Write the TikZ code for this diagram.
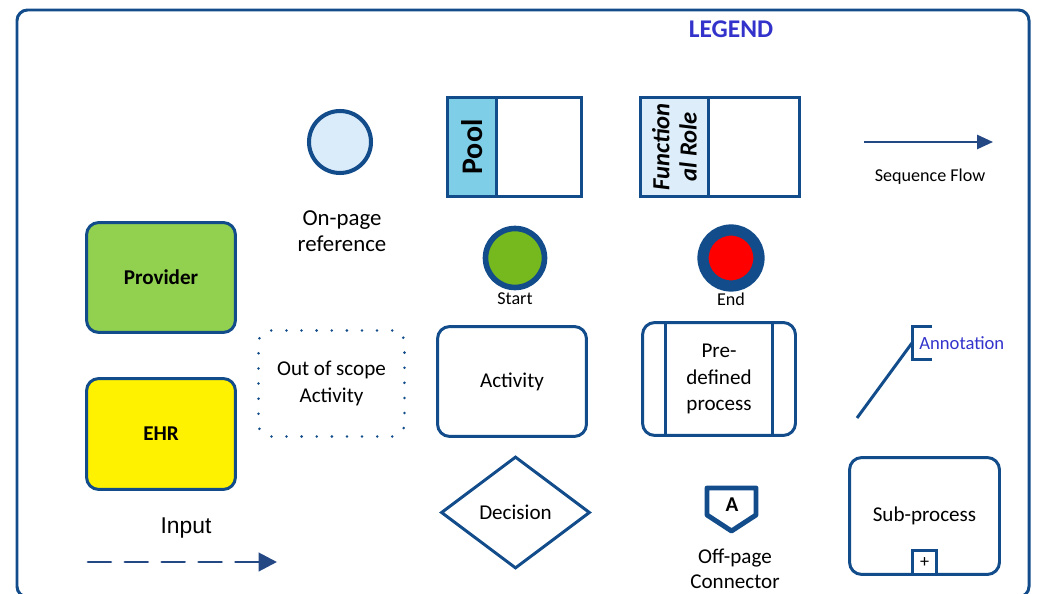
\documentclass[tikz,border=0pt]{standalone}
\usepackage{fontspec}
\setmainfont{Carlito}
\newfontfamily\arialfont{Liberation Sans}
\usetikzlibrary{shapes.geometric,arrows.meta}
\definecolor{navy}{RGB}{18,76,138}
\definecolor{arrownavy}{RGB}{36,72,132}
\definecolor{legendblue}{RGB}{51,51,204}
\definecolor{poolblue}{RGB}{126,206,232}
\definecolor{rolefill}{RGB}{221,238,250}
\definecolor{onpagefill}{RGB}{218,235,250}
\definecolor{startgreen}{RGB}{118,185,30}
\definecolor{providergreen}{RGB}{146,208,80}
\begin{document}
\begin{tikzpicture}[x=0.02cm, y=-0.02cm,
        frame/.style={draw=navy, line width=1.7pt, rounded corners=6pt},
        box/.style={rectangle, rounded corners=7pt, draw=navy, line width=1.7pt, inner sep=2pt, align=center, font=\fontsize{12}{15}\selectfont},
        outscope/.style={box, draw=navy, line width=1.6pt, dash pattern=on 0pt off 8.6pt, line cap=round},
        lane/.style={rectangle, draw=navy, line width=1.4pt, inner sep=0pt, minimum height=1.98cm},
        lanehead/.style={rectangle, draw=navy, line width=1.4pt, inner sep=0pt, align=center, rotate=90, anchor=north, minimum width=1.98cm},
        event/.style={circle, draw=navy, inner sep=0pt},
        small/.style={font=\fontsize{10.3}{12}\selectfont},
        plain/.style={align=center, font=\fontsize{12}{14.5}\selectfont},
        flow/.style={-{Triangle[length=9pt, width=8pt]}, draw=arrownavy, line width=1.2pt},
        inputflow/.style={-{Triangle[length=10.5pt, width=10.5pt]}, draw=arrownavy, line width=1.7pt, dash pattern=on 13pt off 8pt, line cap=round}
    ]
        \useasboundingbox (0,0) rectangle (1038,594);
        \draw[frame] (17,10) rectangle (1029,597);
        \node[font=\bfseries\fontsize{14.5}{16}\selectfont, text=legendblue] (legend) at (731,29) {LEGEND};

        % first row
        \node[event, fill=onpagefill, line width=2.3pt, minimum size=1.24cm] (onpage) at (340,142) {};
        \node[plain, font=\fontsize{13}{14.5}\selectfont] (onpagetext) at (342,231) {On-page\\reference};
        \node[lane, minimum width=2.68cm] (pool) at (514.5,147) {};
        \node[lanehead, fill=poolblue, minimum height=0.98cm, font=\bfseries\fontsize{17}{19}\selectfont] (poolhead) at (pool.west) {Pool};
        \node[lane, minimum width=3.18cm] (role) at (720,147) {};
        \node[lanehead, fill=rolefill, minimum height=1.36cm, font=\bfseries\itshape\fontsize{14}{15.5}\selectfont] (rolehead) at (role.west) {Function\\al Role};
        \coordinate (seqstart) at (864,142);
        \coordinate (seqend) at (993,142);
        \draw[flow] (seqstart) -- (seqend);
        \node[small] (seqtext) at (930,177) {Sequence Flow};

        % events
        \node[event, fill=startgreen, line width=3.2pt, minimum size=1.18cm] (startevent) at (515,258) {};
        \node[small] (starttext) at (515,299) {Start};
        \node[event, fill=red, line width=6.4pt, minimum size=1.12cm] (endevent) at (731,258) {};
        \node[small] (endtext) at (731,299) {End};

        % boxes
        \node[box, fill=providergreen, font=\bfseries\fontsize{12}{15}\selectfont, minimum width=2.98cm, minimum height=2.2cm] (provider) at (161,277.5) {Provider};
        \node[box, fill=yellow, font=\bfseries\fontsize{12}{15}\selectfont, minimum width=2.98cm, minimum height=2.22cm] (ehr) at (161,434) {EHR};
        \node[outscope, minimum width=2.92cm, minimum height=2.12cm] (outofscope) at (331.5,383.5) {Out of scope\\Activity};
        \node[box, minimum width=2.98cm, minimum height=2.2cm] (activity) at (512,381.5) {Activity};
        \node[box, minimum width=3.06cm, minimum height=2.26cm, font=\fontsize{12}{15}\selectfont] (predef) at (719,379) {Pre-\\defined\\process};
        \draw[navy, line width=1.7pt] ([xshift=0.48cm]predef.north west) -- ([xshift=0.48cm]predef.south west);
        \draw[navy, line width=1.7pt] ([xshift=-0.48cm]predef.north east) -- ([xshift=-0.48cm]predef.south east);

        % annotation
        \node[anchor=west, inner xsep=4pt, minimum height=0.64cm, text=legendblue, font=\fontsize{10.6}{12}\selectfont] (annot) at (912,343) {Annotation};
        \draw[navy, line width=1.7pt] ([xshift=0.4cm]annot.north west) -- (annot.north west) -- (annot.south west) -- ([xshift=0.4cm]annot.south west);
        \coordinate (annotfoot) at (857,418);
        \draw[navy, line width=1.7pt] (annotfoot) -- (annot.west);

        % bottom row
        \node[diamond, draw=navy, line width=1.7pt, inner sep=0pt, aspect=1.33, minimum width=2.98cm, minimum height=2.24cm, plain] (decision) at (515.5,512.5) {Decision};
        \node[font=\bfseries\fontsize{12}{14}\selectfont] (offpage) at (732,505) {A};
        \draw[navy, line width=2.8pt, line join=round] (707,488) -- (756,488) -- (756,515) -- (731.5,531) -- (707,515) -- cycle;
        \node[plain] (offpagetext) at (735,569) {Off-page\\Connector};
        \node[box, minimum width=3.0cm, minimum height=2.34cm] (sub) at (924.5,516) {Sub-process};
        \node[rectangle, draw=navy, line width=1.7pt, fill=white, inner sep=0pt, minimum size=0.48cm, anchor=south, small] (subplus) at (sub.south) {+};
        \node[font=\arialfont\fontsize{13}{15}\selectfont] (input) at (186,528) {Input};
        \coordinate (inputstart) at (88,562);
        \coordinate (inputend) at (277,562);
        \draw[inputflow] (inputstart) -- (inputend);
    \end{tikzpicture}
\end{document}
